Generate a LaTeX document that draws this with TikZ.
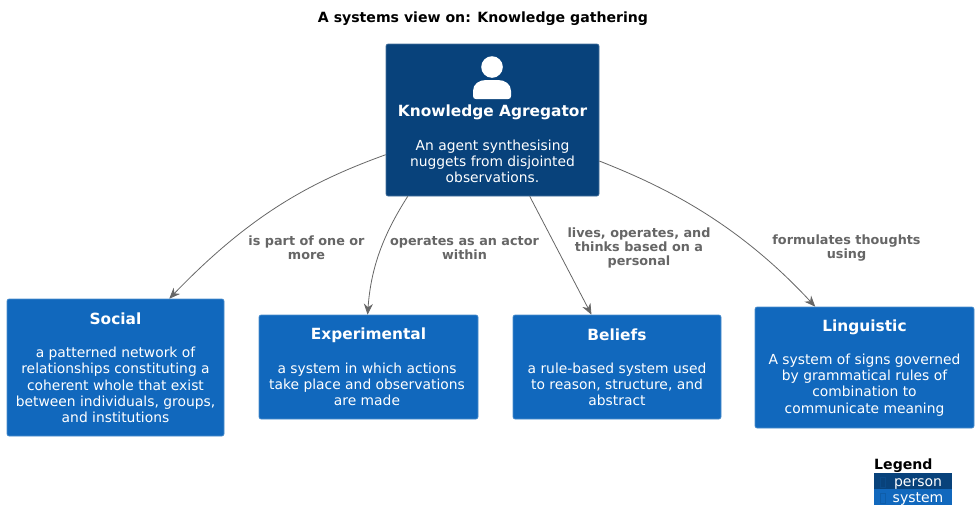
\documentclass[tikz,border=0pt]{standalone}
\usepackage{fontspec}
\setmainfont{DejaVu Sans}
\usetikzlibrary{arrows.meta}
\definecolor{persondark}{HTML}{08427B}
\definecolor{systemblue}{HTML}{1168BD}
\definecolor{edgegray}{HTML}{666666}
\tikzset{box/.style={draw=#1!75!white, fill=#1, line width=.6pt, rounded corners=2pt, inner sep=0pt}}
\tikzset{title/.style={text=white, font=\fontsize{15.4}{18}\selectfont\bfseries, inner sep=0pt}}
\tikzset{desc/.style={text=white, font=\fontsize{13.85}{16.3}\selectfont, align=center, inner sep=0pt}}
\tikzset{rel/.style={draw=edgegray, line width=.8pt, -{Stealth[length=11pt,width=9pt,fill=edgegray]}}}
\tikzset{lab/.style={text=edgegray, font=\fontsize{12.8}{14}\selectfont\bfseries, align=center, inner sep=0pt}}
\tikzset{legrow/.style={minimum width=78pt, minimum height=16pt, inner sep=0pt, text=white, text height=13pt, text depth=2pt, font=\fontsize{14}{16}\selectfont}}

\begin{document}
\begin{tikzpicture}[x=1pt, y=-1pt]
  \useasboundingbox (0,0) rectangle (979,528);
  \node[font=\fontsize{14.1}{15}\selectfont\bfseries, inner sep=0pt] (head) at (483,19) {A systems view on: Knowledge gathering};

  % boxes
  \node[box=persondark, minimum width=213pt, minimum height=152pt] (ka) at (492.5,120) {};
  \node[box=systemblue, minimum width=217pt, minimum height=137pt] (social) at (115.5,367.5) {};
  \node[box=systemblue, minimum width=219pt, minimum height=104pt] (exper) at (368.5,367) {};
  \node[box=systemblue, minimum width=208pt, minimum height=104pt] (beliefs) at (617,367) {};
  \node[box=systemblue, minimum width=219pt, minimum height=121pt] (lingu) at (864.5,367.5) {};

  % person icon
  \fill[white] (492,67) circle (10.8);
  \fill[white] (473,96) -- (473,91) .. controls (473,84) and (479,80) .. (486,80) -- (498,80)
    .. controls (505,80) and (511,84) .. (511,91) -- (511,96) .. controls (511,98) and (510,99) .. (508,99)
    -- (476,99) .. controls (474,99) and (473,98) .. (473,96) -- cycle;

  \node[title] (katitle) at (492.5,112) {Knowledge Agregator};
  \node[desc] (kadesc) at (492.5,161.5) {An agent synthesising\\nuggets from disjointed\\observations.};
  \node[title] (soctitle) at (115.5,319) {Social};
  \node[desc] (socdesc) at (115.5,385) {a patterned network of\\relationships constituting a\\coherent whole that exist\\between individuals, groups,\\and institutions};
  \node[title] (exptitle) at (368.5,335) {Experimental};
  \node[desc] (expdesc) at (367,384.5) {a system in which actions\\take place and observations\\are made};
  \node[title] (beltitle) at (617,335) {Beliefs};
  \node[desc] (beldesc) at (617,384.5) {a rule-based system used\\to reason, structure, and\\abstract};
  \node[title] (lintitle) at (864.5,327) {Linguistic};
  \node[desc] (lindesc) at (864.5,385) {A system of signs governed\\by grammatical rules of\\combination to\\communicate meaning};

  % relations
  \draw[rel] (ka.198) .. controls (310,182) and (250,215) .. (social.52.5);
  \draw[rel] (ka.222) .. controls (385,232) and (371,265) .. (exper.91.6);
  \draw[rel] (ka.296.3) -- (beliefs.116.6);
  \draw[rel] (ka.339.4) .. controls (660,185) and (735,220) .. (lingu.129.8);

  \node[lab] (lab1) at (306.5,248) {is part of one or\\more};
  \node[lab] (lab2) at (464.5,248) {operates as an actor\\within};
  \node[lab] (lab3) at (639,248) {lives, operates, and\\thinks based on a\\personal};
  \node[lab] (lab4) at (846.5,248) {formulates thoughts\\using};

  % legend
  \node[font=\fontsize{14.1}{16}\selectfont\bfseries, anchor=west, inner sep=0pt] (legend) at (874,466) {Legend};
  \node[legrow, fill=persondark] (legperson) at (913,481) {\hspace*{10pt}person};
  \node[legrow, fill=systemblue] (legsystem) at (913,497) {\hspace*{10pt}system};
  \draw[persondark!80!systemblue, line width=.4pt] (880,477) rectangle (885,487);
  \draw[systemblue!70!persondark, line width=.4pt] (880,493) rectangle (885,503);
\end{tikzpicture}
\end{document}
